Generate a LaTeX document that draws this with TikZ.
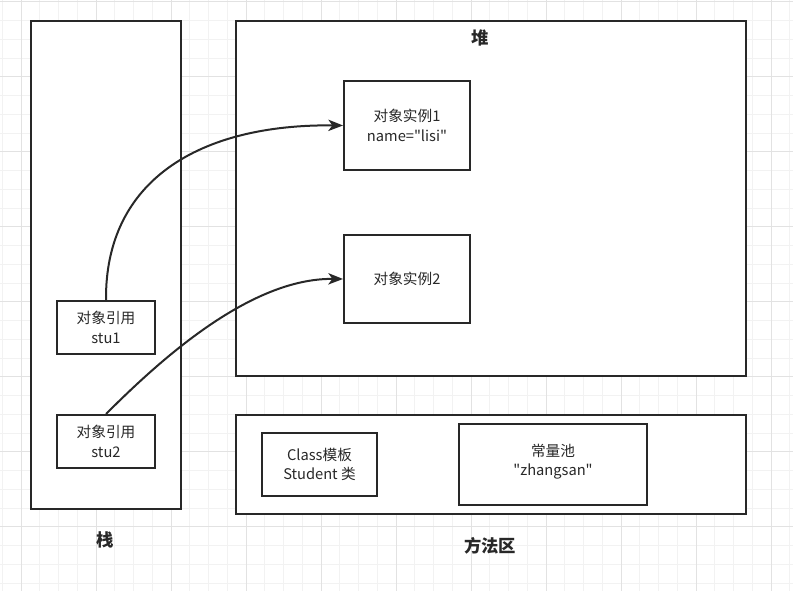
\documentclass[tikz,border=0pt]{standalone}
\usepackage{fontspec}
\setmainfont{Noto Sans CJK SC}[Ligatures=TeXOff]
\usetikzlibrary{arrows.meta}
\definecolor{edge}{RGB}{40,40,40}
\definecolor{gminor}{RGB}{242,242,242}
\definecolor{gmajor}{RGB}{226,226,226}
\begin{document}
\begin{tikzpicture}[x=0.75pt,y=-0.75pt,
  box/.style={draw=edge,line width=1.5pt,fill=white,inner sep=0pt,anchor=north west},
  txt/.style={align=center,font=\fontsize{11}{14.5}\selectfont,text=edge},
  ttl/.style={font=\bfseries\fontsize{13}{15}\selectfont,text=edge},
  link/.style={draw=edge,line width=1.5pt,-{Stealth[length=11pt,width=8.5pt,inset=3pt]}}]
\useasboundingbox (0,0) rectangle (793,591);
\fill[white] (0,0) rectangle (793,591);
% grid
\foreach \i in {0,...,42}{
  \pgfmathsetmacro\gx{2.25+18.75*\i}
  \draw[gminor,line width=0.75pt] (\gx,0) -- (\gx,591);
}
\foreach \i in {0,...,31}{
  \pgfmathsetmacro\gy{2+18.75*\i}
  \draw[gminor,line width=0.75pt] (0,\gy) -- (793,\gy);
}
\foreach \i in {0,...,10}{
  \pgfmathsetmacro\gx{21+75*\i}
  \draw[gmajor,line width=0.75pt] (\gx,0) -- (\gx,591);
}
\foreach \i in {0,...,7}{
  \pgfmathsetmacro\gy{2+75*\i}
  \draw[gmajor,line width=0.75pt] (0,\gy) -- (793,\gy);
}
% containers
\node[box,minimum width=150*0.75pt,minimum height=488*0.75pt] (stack) at (30,20) {};
\node[box,minimum width=510*0.75pt,minimum height=355*0.75pt] (heap) at (235,20) {};
\node[box,minimum width=510*0.75pt,minimum height=99*0.75pt] (method) at (235,414) {};
% labels
\node[ttl] (heapL) at (480,38) {堆};
\node[ttl] (stackL) at (105,540) {栈};
\node[ttl] (methodL) at (490,546) {方法区};
% inner boxes
\node[box,minimum width=126*0.75pt,minimum height=89*0.75pt] (obj1) at (343,80) {};
\node[txt] at (obj1.center) {对象实例1\\name="lisi"};
\node[box,minimum width=126*0.75pt,minimum height=88*0.75pt] (obj2) at (343,234) {};
\node[txt] at (obj2.center) {对象实例2};
\node[box,minimum width=98*0.75pt,minimum height=53*0.75pt] (ref1) at (56,300) {};
\node[txt] at (ref1.center) {对象引用\\stu1};
\node[box,minimum width=98*0.75pt,minimum height=53*0.75pt] (ref2) at (56,414) {};
\node[txt] at (ref2.center) {对象引用\\stu2};
\node[box,minimum width=115*0.75pt,minimum height=63*0.75pt] (cls) at (261,432) {};
\node[txt] at (cls.center) {Class模板\\Student 类};
\node[box,minimum width=188*0.75pt,minimum height=81*0.75pt] (pool) at (458,423) {};
\node[txt] at ([yshift=2pt]pool.center) {常量池\\"zhangsan"};
% connectors
\draw[link] (ref1.north) .. controls (105,180) and (200,124) .. (obj1.west);
\draw[link] (ref2.north) .. controls (160,360) and (250,278) .. (obj2.west);
\end{tikzpicture}
\end{document}
